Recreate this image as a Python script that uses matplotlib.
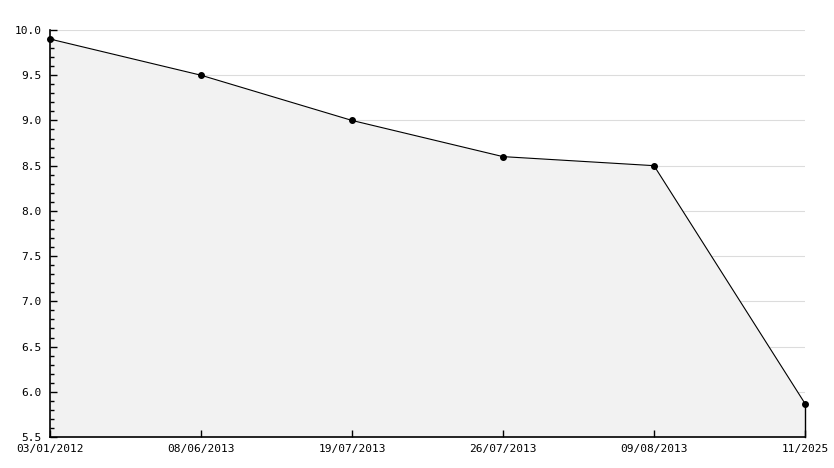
import matplotlib
matplotlib.use("Agg")
import matplotlib.pyplot as plt
from matplotlib.ticker import MultipleLocator, FormatStrFormatter

DATES = ["03/01/2012", "08/06/2013", "19/07/2013", "26/07/2013", "09/08/2013", "11/2025"]
VALUES = [9.9, 9.5, 9.0, 8.6, 8.5, 5.87]
Y_GRID = [6.0, 6.5, 7.0, 7.5, 8.0, 8.5, 9.0, 9.5, 10.0]

plt.rcParams["font.family"] = "DejaVu Sans Mono"

fig = plt.figure(figsize=(8.34, 4.68), dpi=100)
ax = fig.add_axes([50 / 834, 31 / 468, 755 / 834, 407 / 468])

x = list(range(len(VALUES)))
# gridlines sit under the grey fill, like the original
for g in Y_GRID:
    ax.axhline(g, color="#dcdcdc", lw=0.8, zorder=0)
ax.fill_between(x, VALUES, 5.5, color="#f2f2f2", lw=0, zorder=1)
ax.plot(x, VALUES, color="black", lw=0.8, marker="o", ms=4, zorder=3, clip_on=False)
ax.plot([x[-1], x[-1]], [5.5, VALUES[-1]], color="black", lw=1, zorder=3, clip_on=False)

ax.set_xlim(0, len(VALUES) - 1)
ax.set_ylim(5.5, 10.0)
ax.set_xticks(x)
ax.set_xticklabels(DATES)
ax.yaxis.set_major_locator(MultipleLocator(0.5))
ax.yaxis.set_minor_locator(MultipleLocator(0.1))
ax.yaxis.set_major_formatter(FormatStrFormatter("%.1f"))

for s in ("top", "right"):
    ax.spines[s].set_visible(False)
for s in ("left", "bottom"):
    ax.spines[s].set_linewidth(1.2)

ax.tick_params(axis="y", which="major", direction="in", length=5, width=1, labelsize=8, pad=6)
ax.tick_params(axis="y", which="minor", direction="in", length=3, width=1)
ax.tick_params(axis="x", which="major", direction="in", length=5, width=1, labelsize=8, pad=5)

fig.savefig("out.png", dpi=100)
